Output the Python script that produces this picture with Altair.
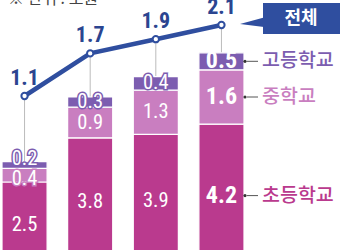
import altair as alt
import pandas as pd

years = ["2019", "2020", "2021", "2022"]
levels = ["초등학교", "중학교", "고등학교"]
elem = [2.5, 3.8, 3.9, 4.2]
middle = [0.4, 0.9, 1.3, 1.6]
high = [0.2, 0.3, 0.4, 0.5]
total = [1.1, 1.7, 1.9, 2.1]
total_label = "전체"
unit_text = "※ 단위 : 조원"

seg_colors = ["#BA3A8E", "#C97EC0", "#7C5DB0"]
label_colors = ["#B3388A", "#C479B8", "#7A63AE"]
BLUE = "#2F4E9F"
NUM_FONT = "Roboto Condensed, Liberation Sans Narrow, DejaVu Sans Condensed, sans-serif"
KR_FONT = "Noto Sans CJK KR"

rows = []
for i, y in enumerate(years):
    for k, (lv, vals) in enumerate(zip(levels, [elem, middle, high])):
        rows.append({"year": y, "level": lv, "order": k, "value": vals[i],
                     "label": f"{vals[i]:.1f}"})
bars_df = pd.DataFrame(rows)
tot_df = pd.DataFrame({"year": years, "total": total,
                       "label": [f"{t:.1f}" for t in total]})
one = pd.DataFrame({"k": [0]})

xscale = alt.Scale(type="band", domain=years, paddingInner=0.313, paddingOuter=0.0305)
X = alt.X("year:N", scale=xscale, axis=None)
bar_dom = [0.5, 7.853]
line_dom = [-1.069, 2.452]
color_scale = alt.Scale(domain=levels, range=seg_colors)

# --- connectors (line scale, drawn below bars)
rules = alt.Chart(tot_df).mark_rule(color="#BBBBBB", strokeWidth=1).encode(
    x=X,
    y=alt.Y("total:Q", scale=alt.Scale(domain=line_dom), axis=None),
    y2=alt.value(250),
)

# --- bars (bar scale)
stacked = alt.Chart(bars_df).transform_stack(
    stack="value", groupby=["year"], as_=["v0", "v1"],
    sort=[alt.SortField("order", order="ascending")]
).transform_calculate(mid="(datum.v0 + datum.v1) / 2")

YB = alt.Y("v0:Q", scale=alt.Scale(domain=bar_dom), axis=None)
bars = stacked.mark_bar(clip=True, stroke="white", strokeWidth=1.2).encode(
    x=X, y=YB, y2="v1:Q",
    color=alt.Color("level:N", scale=color_scale, legend=None),
)
YM = alt.Y("mid:Q", scale=alt.Scale(domain=bar_dom), axis=None)

def small_labels(filt, dy):
    base = stacked.transform_filter(filt)
    outline = base.mark_text(font=NUM_FONT, fontSize=20.5, strokeWidth=3, baseline="middle",
                             dy=dy).encode(
        x=X, y=YM, text="label:N",
        stroke=alt.Stroke("level:N", scale=color_scale, legend=None),
        fill=alt.Fill("level:N", scale=color_scale, legend=None),
    )
    fill = base.mark_text(font=NUM_FONT, fontSize=20.5, fill="white", baseline="middle",
                          dy=dy).encode(x=X, y=YM, text="label:N")
    return [outline, fill]

first = years[0]
lay_a = small_labels((alt.datum.year != years[-1]) & (alt.datum.year != first), 0)
lay_b = small_labels((alt.datum.year == first) & (alt.datum.level == levels[0]), 0)
lay_c = small_labels((alt.datum.year == first) & (alt.datum.level == levels[1]), 4)
lay_d = small_labels((alt.datum.year == first) & (alt.datum.level == levels[2]), -6)

txt_last = stacked.transform_filter(alt.datum.year == years[-1]).mark_text(
    font=NUM_FONT, fontSize=24, fontWeight="bold", fill="white", baseline="middle"
).encode(x=X, y=YM, text="label:N")

last = stacked.transform_filter(alt.datum.year == years[-1])
leg_dot = last.mark_circle(size=10, color="#333333", opacity=1).encode(
    x=alt.value(245), y=YM)
leg_rule = last.mark_rule(color="#555555", strokeWidth=1).encode(
    x=alt.value(247), x2=alt.value(258), y=YM)
leg_txt = last.mark_text(font=KR_FONT, fontSize=19.5, fontWeight=500, align="left",
                         baseline="middle").encode(
    x=alt.value(262), y=YM, text="level:N",
    color=alt.Color("level:N", scale=alt.Scale(domain=levels, range=label_colors), legend=None),
)

bar_group = alt.layer(bars, *lay_a, *lay_b, *lay_c, *lay_d, txt_last,
                      leg_dot, leg_rule, leg_txt)

# --- total line (line scale)
YL = alt.Y("total:Q", scale=alt.Scale(domain=line_dom), axis=None)
line = alt.Chart(tot_df).mark_line(color=BLUE, strokeWidth=4.5).encode(x=X, y=YL)
pts = alt.Chart(tot_df).mark_point(filled=True, fill="white", stroke=BLUE, strokeWidth=2,
                                   size=40, opacity=1).encode(x=X, y=YL)
tot_txt = alt.Chart(tot_df).mark_text(font=NUM_FONT, fontSize=22, fontWeight="bold",
                                      color="#2B4590", dy=-11, baseline="alphabetic").encode(
    x=X, y=YL, text="label:N")

box = alt.Chart(one).mark_rect(color=BLUE).encode(
    x=alt.value(263), x2=alt.value(340), y=alt.value(3), y2=alt.value(34))
pointer = alt.Chart(one).mark_point(shape="M -1 0 L 1 -0.55 L 1 0.25 Z", filled=True,
                                    size=576, color=BLUE, opacity=1).encode(
    x=alt.value(252), y=alt.value(24))
box_txt = alt.Chart(one).mark_text(font=KR_FONT, fontSize=18, fontWeight="bold",
                                   color="white", baseline="middle").encode(
    x=alt.value(301), y=alt.value(19), text=alt.value(total_label))
unit = alt.Chart(one).mark_text(font=KR_FONT, fontSize=16, color="#444444",
                                align="left", baseline="alphabetic").encode(
    x=alt.value(8), y=alt.value(4), text=alt.value(unit_text))

line_group = alt.layer(line, pts, tot_txt, box, pointer, box_txt, unit)

chart = alt.layer(rules, bar_group, line_group).resolve_scale(y="independent").properties(
    width=246, height=250,
    autosize=alt.AutoSizeParams(type="none"),
    padding={"left": 0, "top": 0, "right": 104, "bottom": 0},
).configure_view(stroke=None)

chart.save("out.html", embed_options={"renderer": "svg", "actions": False})
